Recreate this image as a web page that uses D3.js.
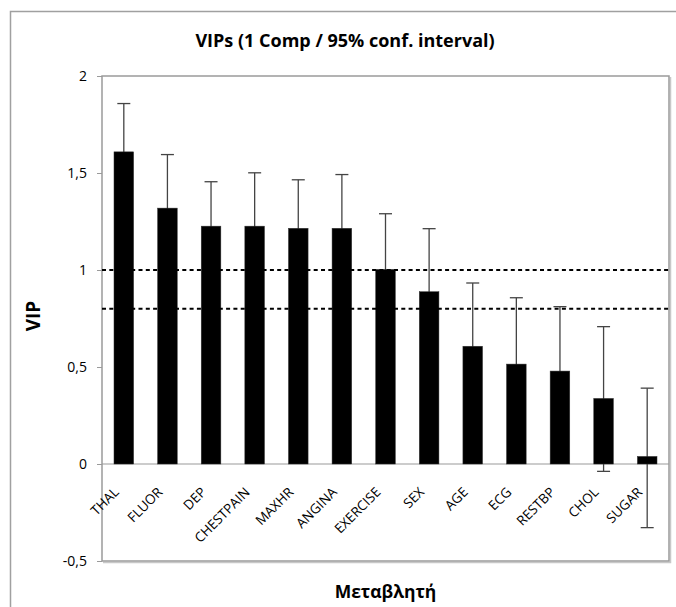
<!DOCTYPE html>
<html><head><meta charset="utf-8">
<script src="https://cdn.jsdelivr.net/npm/d3@7"></script>
<style>
body{margin:0;background:#fff;}
svg{display:block;font-family:"Open Sans",sans-serif;}
</style></head>
<body>
<svg id="c" width="676" height="607"></svg>
<script>
const categories = ["THAL","FLUOR","DEP","CHESTPAIN","MAXHR","ANGINA","EXERCISE","SEX","AGE","ECG","RESTBP","CHOL","SUGAR"];
const vip = [1.609,1.319,1.226,1.226,1.215,1.215,1.003,0.888,0.607,0.515,0.479,0.338,0.039];
const ciUpper = [1.858,1.595,1.455,1.501,1.465,1.492,1.290,1.213,0.933,0.857,0.811,0.708,0.391];
const ciLower = [1.360,1.043,0.997,0.951,0.965,0.938,0.716,0.563,0.281,0.173,0.147,-0.038,-0.328];
const yTicks = [-0.5,0,0.5,1,1.5,2];
const refLines = [1,0.8];
const title = "VIPs (1 Comp / 95% conf. interval)";
const xTitle = "Μεταβλητή";
const yTitle = "VIP";

const svg = d3.select("#c");
const L=102,T=76,R=669,B=561;
const x = d3.scaleBand().domain(categories).range([L,R]).paddingInner(0.55).paddingOuter(0.275);
const y = d3.scaleLinear().domain([-0.5,2]).range([B,T]);
const fmt = d => String(d).replace(".",",");

// outer chart border
svg.append("rect").attr("x",10.5).attr("y",11.5).attr("width",700).attr("height",700)
  .attr("fill","none").attr("stroke","#a0a0a0").attr("stroke-width",1.5);

// plot area border (with shadow on right/bottom)
svg.append("path").attr("d",`M${R+1.5},${T+1}V${B+1.5}H${L+1}`).attr("fill","none").attr("stroke","#c8c8c8").attr("stroke-width",1.5);
svg.append("rect").attr("x",L).attr("y",T).attr("width",R-L).attr("height",B-T)
  .attr("fill","none").attr("stroke","#9a9a9a").attr("stroke-width",1.5);

// y axis
const yAxis = d3.axisLeft(y).tickValues(yTicks).tickFormat(fmt).tickSize(5).tickPadding(10);
const ga = svg.append("g").attr("transform",`translate(${L},0)`).call(yAxis);
ga.select(".domain").remove();
ga.selectAll(".tick line").attr("stroke","#9a9a9a");
ga.selectAll(".tick text").attr("font-size",14).attr("fill","#000").attr("font-family","'Open Sans',sans-serif");

// zero line
svg.append("line").attr("x1",L).attr("x2",R).attr("y1",y(0)).attr("y2",y(0)).attr("stroke","#9a9a9a").attr("stroke-width",1.2);

// error bars (drawn under bars, as black bars hide the inner part)
const eg = svg.append("g").attr("stroke","#444").attr("stroke-width",1.3);
categories.forEach((c,i)=>{
  const cx = x(c)+x.bandwidth()/2;
  eg.append("line").attr("x1",cx).attr("x2",cx).attr("y1",y(ciLower[i])).attr("y2",y(ciUpper[i]));
  eg.append("line").attr("x1",cx-6.5).attr("x2",cx+6.5).attr("y1",y(ciUpper[i])).attr("y2",y(ciUpper[i]));
  eg.append("line").attr("x1",cx-6.5).attr("x2",cx+6.5).attr("y1",y(ciLower[i])).attr("y2",y(ciLower[i]));
});

// bars
svg.append("g").selectAll("rect").data(categories).join("rect")
  .attr("x",d=>x(d)).attr("width",x.bandwidth())
  .attr("y",(d,i)=>y(Math.max(0,vip[i]))).attr("height",(d,i)=>Math.abs(y(vip[i])-y(0)))
  .attr("fill","#000").attr("stroke","#333").attr("stroke-width",0.5);

// reference dashed lines
svg.append("g").selectAll("line").data(refLines).join("line")
  .attr("x1",L).attr("x2",R).attr("y1",d=>y(d)).attr("y2",d=>y(d))
  .attr("stroke","#000").attr("stroke-width",2).attr("stroke-dasharray","4,3.3");

// x labels
svg.append("g").selectAll("text").data(categories).join("text")
  .attr("transform",d=>`translate(${x(d)+x.bandwidth()/2-4},${y(0)+29}) rotate(-45)`)
  .attr("text-anchor","end").attr("font-size",13.5).text(d=>d);

// titles
svg.append("text").attr("x",345).attr("y",47).attr("text-anchor","middle")
  .attr("font-size",18).attr("font-weight","bold").text(title);
svg.append("text").attr("x",(L+R)/2).attr("y",598).attr("text-anchor","middle")
  .attr("font-size",17.5).attr("font-weight","bold").text(xTitle);
svg.append("text").attr("transform",`translate(40,316) rotate(-90)`).attr("text-anchor","middle")
  .attr("font-size",19).attr("font-weight","bold").text(yTitle);
</script>
</body></html>
